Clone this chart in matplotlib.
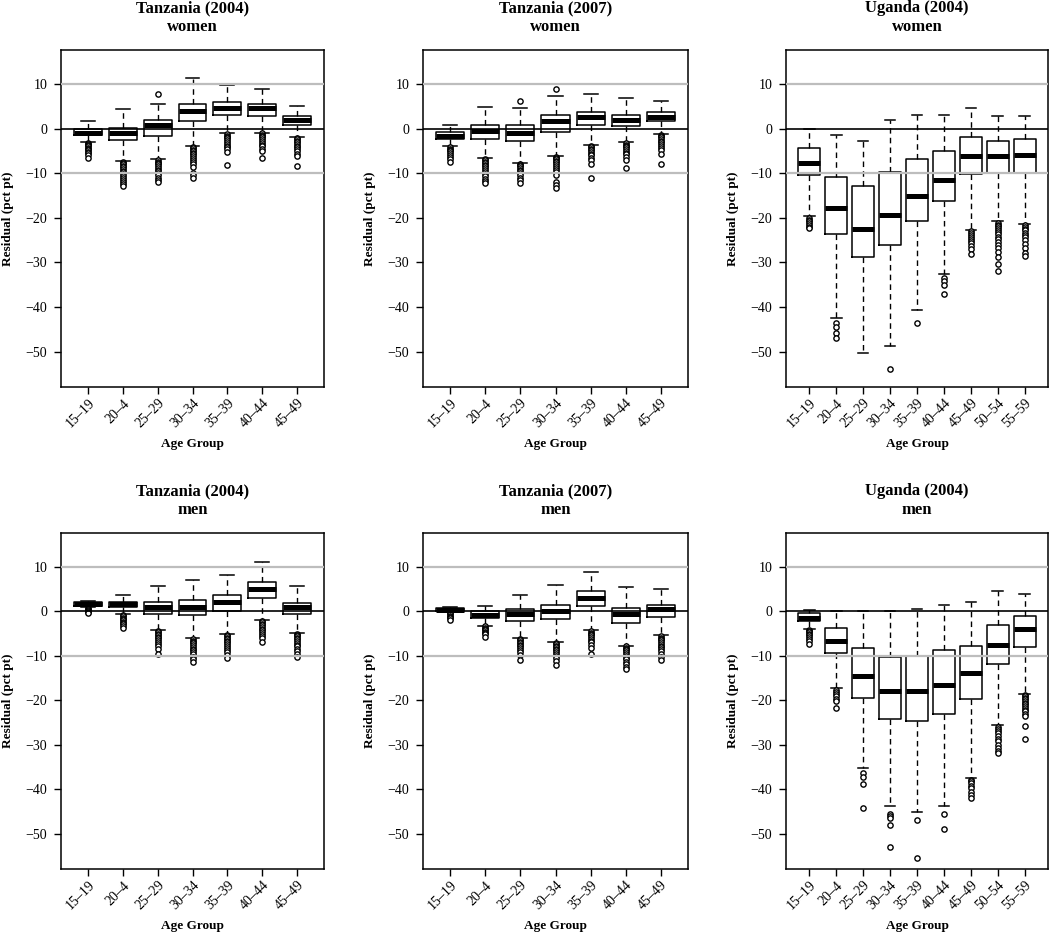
import matplotlib
matplotlib.use("Agg")
import matplotlib.pyplot as plt

plt.rcParams['font.family'] = ['Liberation Serif', 'DejaVu Serif']

AGE_TZ = ["15–19", "20–4", "25–29", "30–34", "35–39", "40–44", "45–49"]
AGE_UG = AGE_TZ + ["50–54", "55–59"]

# ---------- Tanzania (2004) women ----------
tz04w_lo = [-3.0, -7.2, -6.9, -3.9, -1.1, -0.9, -1.9]
tz04w_q1 = [-1.5, -2.6, -1.7, 1.6, 3.1, 2.8, 0.7]
tz04w_med = [-1.1, -0.9, 0.8, 4.0, 4.7, 4.5, 1.9]
tz04w_q3 = [-0.2, 0.2, 1.9, 5.6, 6.0, 5.4, 2.8]
tz04w_hi = [1.6, 4.4, 5.6, 11.3, 9.8, 8.8, 5.1]
tz04w_out = [
    [-3.3, -3.5, -3.7, -4.0, -4.3, -4.6, -4.9, -5.2, -5.5, -5.9, -6.7],
    [-7.4, -7.7, -8.0, -8.3, -8.6, -9.0, -9.4, -9.8, -10.2, -10.6, -11.0, -11.5, -12.0, -12.5, -12.9],
    [7.7, -7.1, -7.4, -7.7, -8.0, -8.4, -8.8, -9.2, -9.6, -10.0, -10.5, -11.0, -11.5, -12.0],
    [-4.1, -4.4, -4.7, -5.0, -5.4, -5.8, -6.2, -6.6, -7.0, -7.5, -8.0, -8.6, -9.9, -10.3, -11.0],
    [-1.3, -1.6, -1.9, -2.2, -2.6, -3.0, -3.4, -3.8, -4.2, -4.6, -5.2, -8.1],
    [-1.1, -1.4, -1.7, -2.0, -2.4, -2.8, -3.2, -3.6, -4.0, -4.5, -5.0, -6.6],
    [-2.1, -2.4, -2.7, -3.0, -3.4, -3.8, -4.2, -4.6, -5.0, -5.6, -6.2, -8.4],
]

# ---------- Tanzania (2007) women ----------
tz07w_lo = [-4.0, -6.6, -7.7, -6.1, -3.7, -3.1, -1.2]
tz07w_q1 = [-2.4, -2.3, -2.7, -0.7, 0.8, 0.5, 1.6]
tz07w_med = [-1.6, -0.6, -0.9, 1.7, 2.5, 1.9, 2.7]
tz07w_q3 = [-0.7, 0.7, 0.7, 3.0, 3.6, 3.0, 3.6]
tz07w_hi = [0.9, 4.9, 4.6, 7.3, 7.8, 6.8, 6.2]
tz07w_out = [
    [-4.2, -4.5, -4.8, -5.1, -5.5, -5.9, -6.3, -6.8, -7.5],
    [-6.8, -7.1, -7.4, -7.7, -8.1, -8.5, -8.9, -9.3, -9.7, -10.1, -10.6, -11.2, -11.8, -12.3],
    [6.2, -7.9, -8.2, -8.5, -8.8, -9.2, -9.6, -10.0, -10.5, -11.0, -11.6, -12.3],
    [8.8, -6.3, -6.6, -6.9, -7.2, -7.6, -8.0, -8.4, -8.8, -9.2, -9.7, -10.5, -12.0, -12.6, -13.3],
    [-3.9, -4.2, -4.5, -4.8, -5.2, -5.6, -6.0, -6.5, -7.0, -8.0, -11.0],
    [-3.3, -3.6, -3.9, -4.2, -4.6, -5.0, -5.4, -5.8, -6.3, -7.0, -8.9],
    [-1.4, -1.7, -2.0, -2.3, -2.7, -3.1, -3.5, -3.9, -4.3, -4.8, -5.7, -7.9],
]

# ---------- Uganda (2004) women ----------
ugw_lo = [-19.6, -42.5, -50.2, -48.8, -40.6, -32.6, -22.7, -20.7, -21.3]
ugw_q1 = [-10.4, -23.6, -28.7, -26.1, -20.7, -16.2, -10.2, -9.9, -9.9]
ugw_med = [-7.8, -17.8, -22.5, -19.4, -15.1, -11.5, -6.1, -6.1, -5.9]
ugw_q3 = [-4.3, -10.9, -12.8, -9.7, -6.9, -5.1, -1.8, -2.7, -2.4]
ugw_hi = [-0.2, -1.5, -2.7, 1.9, 3.0, 3.0, 4.7, 2.8, 2.8]
ugw_out = [
    [-20.0, -20.4, -20.8, -21.2, -21.6, -22.0, -22.3],
    [-43.6, -44.4, -45.8, -47.0],
    [],
    [-53.8],
    [-43.6],
    [-33.4, -34.2, -35.0, -37.1],
    [-23.0, -23.4, -23.8, -24.2, -24.7, -25.2, -25.7, -26.3, -27.0, -28.0],
    [-21.1, -21.5, -21.9, -22.3, -22.7, -23.2, -23.7, -24.2, -24.8, -25.4, -26.0, -26.8, -27.7, -28.7, -30.3, -31.8],
    [-21.6, -22.0, -22.4, -22.8, -23.3, -23.8, -24.4, -25.0, -25.8, -26.8, -27.8, -28.6],
]

# ---------- Tanzania (2004) men ----------
tz04m_lo = [0.9, -0.6, -4.2, -6.1, -5.1, -2.0, -4.8]
tz04m_q1 = [1.1, 1.0, -0.7, -0.9, 0.1, 3.1, -0.6]
tz04m_med = [1.7, 1.7, 0.9, 1.0, 2.2, 5.0, 1.0]
tz04m_q3 = [2.15, 2.15, 2.2, 2.5, 3.7, 6.5, 1.9]
tz04m_hi = [2.3, 3.7, 5.6, 7.0, 8.2, 11.0, 5.7]
tz04m_out = [
    [0.7, 0.5, 0.3, 0.1, -0.1, -0.4],
    [-0.8, -1.1, -1.4, -1.7, -2.0, -2.3, -2.6, -2.9, -3.2, -3.7],
    [-4.4, -4.7, -5.0, -5.3, -5.7, -6.1, -6.5, -6.9, -7.3, -7.8, -8.4, -9.5],
    [-6.3, -6.6, -6.9, -7.2, -7.6, -8.0, -8.4, -8.8, -9.2, -9.7, -10.2, -10.8, -11.4],
    [-5.3, -5.6, -5.9, -6.2, -6.6, -7.0, -7.4, -7.8, -8.2, -8.7, -9.2, -9.8, -10.5],
    [-2.2, -2.5, -2.8, -3.1, -3.5, -3.9, -4.3, -4.7, -5.1, -5.6, -6.1, -6.8],
    [-5.0, -5.3, -5.6, -5.9, -6.3, -6.7, -7.1, -7.5, -7.9, -8.4, -8.9, -9.5, -10.2],
]

# ---------- Tanzania (2007) men ----------
tz07m_lo = [-0.1, -3.2, -6.0, -6.9, -4.3, -7.7, -5.4]
tz07m_q1 = [0.0, -1.6, -2.1, -1.7, 1.2, -2.6, -1.2]
tz07m_med = [0.4, -0.9, -0.6, 0.1, 3.1, -0.6, 0.5]
tz07m_q3 = [0.75, 0.0, 0.5, 1.4, 4.5, 0.7, 1.4]
tz07m_hi = [0.9, 1.1, 3.7, 5.9, 8.8, 5.4, 5.1]
tz07m_out = [
    [-0.4, -0.7, -1.0, -1.3, -1.6, -2.0],
    [-3.4, -3.7, -4.0, -4.3, -4.6, -4.9, -5.2, -5.8],
    [-6.2, -6.5, -6.8, -7.1, -7.5, -7.9, -8.3, -8.7, -9.2, -9.8, -11.0],
    [-7.1, -7.4, -7.7, -8.0, -8.4, -8.8, -9.2, -9.6, -10.0, -10.6, -11.2, -12.0],
    [-4.5, -4.8, -5.1, -5.4, -5.8, -6.2, -6.6, -7.0, -7.5, -8.2, -9.5],
    [-7.9, -8.2, -8.5, -8.8, -9.2, -9.6, -10.0, -10.4, -10.8, -11.3, -11.8, -12.4, -13.0],
    [-5.6, -5.9, -6.2, -6.5, -6.9, -7.3, -7.7, -8.1, -8.5, -9.0, -9.6, -10.3, -11.0],
]

# ---------- Uganda (2004) men ----------
ugm_lo = [-3.9, -17.3, -35.1, -43.7, -45.1, -43.7, -37.5, -25.6, -18.5]
ugm_q1 = [-2.1, -9.3, -19.4, -24.1, -24.7, -23.0, -19.6, -11.9, -8.0]
ugm_med = [-1.6, -6.6, -14.6, -17.9, -17.9, -16.6, -13.9, -7.5, -4.0]
ugm_q3 = [-0.4, -3.7, -8.2, -10.3, -10.0, -8.8, -7.7, -3.1, -1.1]
ugm_hi = [0.2, 0.0, 0.0, 0.0, 0.6, 1.5, 2.2, 4.5, 4.0]
ugm_out = [
    [-4.1, -4.4, -4.7, -5.0, -5.4, -5.8, -6.2, -6.7, -7.3],
    [-17.7, -18.1, -18.5, -19.0, -19.6, -20.2, -21.7],
    [-36.3, -37.2, -38.8, -44.1],
    [-45.5, -46.0, -46.5, -48.0, -53.0],
    [-46.8, -55.5],
    [-45.5, -48.8],
    [-37.8, -38.2, -38.6, -39.2, -39.8, -40.6, -41.2, -42.0],
    [-26.0, -26.4, -26.8, -27.4, -28.0, -28.6, -29.2, -30.0, -30.8, -31.4, -31.8],
    [-18.8, -19.1, -19.4, -19.7, -20.1, -20.5, -20.9, -21.3, -21.7, -22.1, -22.5, -23.0, -23.5, -25.8, -28.6],
]

panels = [
    ("Tanzania (2004)\nwomen", AGE_TZ, tz04w_lo, tz04w_q1, tz04w_med, tz04w_q3, tz04w_hi, tz04w_out),
    ("Tanzania (2007)\nwomen", AGE_TZ, tz07w_lo, tz07w_q1, tz07w_med, tz07w_q3, tz07w_hi, tz07w_out),
    ("Uganda (2004)\nwomen", AGE_UG, ugw_lo, ugw_q1, ugw_med, ugw_q3, ugw_hi, ugw_out),
    ("Tanzania (2004)\nmen", AGE_TZ, tz04m_lo, tz04m_q1, tz04m_med, tz04m_q3, tz04m_hi, tz04m_out),
    ("Tanzania (2007)\nmen", AGE_TZ, tz07m_lo, tz07m_q1, tz07m_med, tz07m_q3, tz07m_hi, tz07m_out),
    ("Uganda (2004)\nmen", AGE_UG, ugm_lo, ugm_q1, ugm_med, ugm_q3, ugm_hi, ugm_out),
]

W, H = 1050, 935
fig = plt.figure(figsize=(W / 100, H / 100), dpi=100)

col_px = [(61, 324), (423, 688), (786, 1048)]
row_px = [(50, 387), (533, 869)]

for k, (title, labels, lo, q1, med, q3, hi, outs) in enumerate(panels):
    r, c = divmod(k, 3)
    (xl, xr), (yt, yb) = col_px[c], row_px[r]
    aw, ah = xr - xl, yb - yt
    ax = fig.add_axes([xl / W, 1 - yb / H, aw / W, ah / H])
    n = len(labels)
    stats = [dict(med=med[i], q1=q1[i], q3=q3[i], whislo=lo[i], whishi=hi[i],
                  fliers=outs[i]) for i in range(n)]
    pos = list(range(1, n + 1))
    ax.bxp(stats, positions=pos, widths=0.8, capwidths=0.4,
           boxprops=dict(color='black', linewidth=1.1),
           whiskerprops=dict(color='black', linewidth=1.0, linestyle=(0, (4, 3))),
           capprops=dict(color='black', linewidth=1.1),
           medianprops=dict(color='black', linewidth=3.6, solid_capstyle='butt'),
           flierprops=dict(marker='o', markersize=3.8, markerfacecolor='white',
                           markeredgecolor='black', markeredgewidth=1.0, linestyle='none'),
           manage_ticks=False, zorder=2)
    ax.axhline(10, color='#bdbdbd', lw=1.6, zorder=3)
    ax.axhline(-10, color='#bdbdbd', lw=1.6, zorder=3)
    ax.axhline(0, color='black', lw=1.2, zorder=3)
    ext = 0.04 * n
    ax.set_xlim(0.5 - ext, n + 0.5 + ext)
    ax.set_ylim(-57.9, 17.6)
    ax.set_yticks([10, 0, -10, -20, -30, -40, -50])
    ax.set_yticklabels(["10", "0", "−10", "−20", "−30", "−40", "−50"])
    ax.set_xticks(pos)
    ax.set_xticklabels(labels, rotation=45, ha='right', va='top',
                       rotation_mode='anchor')
    ax.tick_params(axis='both', direction='out', length=5, width=1,
                   colors='black')
    ax.tick_params(axis='y', labelsize=10, pad=5)
    ax.tick_params(axis='x', labelsize=10, pad=2)
    for s in ax.spines.values():
        s.set_linewidth(1.1)
    ax.set_title(title, fontsize=12, fontweight='bold', pad=14, linespacing=1.2)
    ax.set_ylabel("Residual (pct pt)", fontsize=9.5, fontweight='bold', va='center')
    ax.yaxis.set_label_coords(-53 / aw, 0.5)
    ax.set_xlabel("Age Group", fontsize=9.5, fontweight='bold', va='center')
    ax.xaxis.set_label_coords(0.5, -57 / ah)

fig.savefig("out.png", dpi=100)
